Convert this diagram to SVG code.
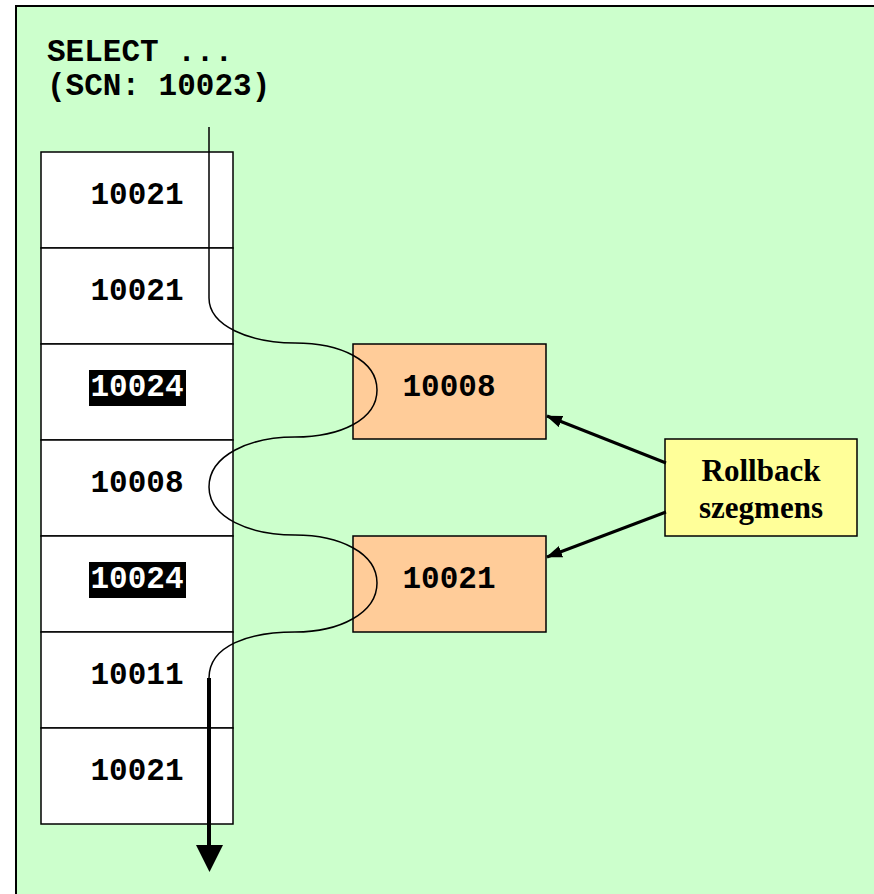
<svg xmlns="http://www.w3.org/2000/svg" width="874" height="894" viewBox="0 0 874 894">
<style>
.mono{font-family:"Liberation Mono","Courier New",monospace;font-weight:bold;font-size:31px;}
.cell{fill:#FFFFFF;stroke:#000;stroke-width:1.5;}
.seg{fill:#FFCC99;stroke:#000;stroke-width:1.5;}
.note{fill:#FFFF99;stroke:#000;stroke-width:1.5;}
.lbl{font-family:"Liberation Serif","Times New Roman",serif;font-weight:bold;font-size:31px;}
</style>
<defs>
<marker id="ah" markerWidth="16" markerHeight="12" refX="15" refY="6" orient="auto" markerUnits="userSpaceOnUse">
<path d="M0,0 L16,6 L0,12 Z" fill="#000"/>
</marker>
</defs>
<rect x="0" y="0" width="874" height="894" fill="#FFFFFF"/>
<rect x="16" y="6" width="880" height="910" fill="#CCFFCC" stroke="#000" stroke-width="2"/>
<g id="query">
<text class="mono" x="47" y="61">SELECT ...</text>
<text class="mono" x="47" y="95">(SCN: 10023)</text>
</g>
<g id="blocks">
<g id="row1"><rect class="cell" x="41" y="152" width="192" height="96"/><text class="mono" x="137" y="204" text-anchor="middle">10021</text></g>
<g id="row2"><rect class="cell" x="41" y="248" width="192" height="96"/><text class="mono" x="137" y="300" text-anchor="middle">10021</text></g>
<g id="row3"><rect class="cell" x="41" y="344" width="192" height="96"/><rect x="89" y="370" width="97" height="36" fill="#000"/><text class="mono" x="137" y="396" text-anchor="middle" fill="#FFFFFF">10024</text></g>
<g id="row4"><rect class="cell" x="41" y="440" width="192" height="96"/><text class="mono" x="137" y="492" text-anchor="middle">10008</text></g>
<g id="row5"><rect class="cell" x="41" y="536" width="192" height="96"/><rect x="89" y="562" width="97" height="36" fill="#000"/><text class="mono" x="137" y="588" text-anchor="middle" fill="#FFFFFF">10024</text></g>
<g id="row6"><rect class="cell" x="41" y="632" width="192" height="96"/><text class="mono" x="137" y="684" text-anchor="middle">10011</text></g>
<g id="row7"><rect class="cell" x="41" y="728" width="192" height="96"/><text class="mono" x="137" y="780" text-anchor="middle">10021</text></g>
</g>
<g id="undo1"><rect class="seg" x="353" y="344" width="193" height="95"/><text class="mono" x="449" y="396" text-anchor="middle">10008</text></g>
<g id="undo2"><rect class="seg" x="353" y="536" width="193" height="96"/><text class="mono" x="449" y="588" text-anchor="middle">10021</text></g>
<g id="rollback"><rect class="note" x="665" y="439" width="192" height="97"/>
<text class="lbl" x="761" y="481" text-anchor="middle">Rollback</text>
<text class="lbl" x="761" y="518" text-anchor="middle">szegmens</text></g>
<g id="connectors" fill="none" stroke="#000">
<path stroke-width="1.5" d="M209,127 V298 C209,326 250,343 295,343 C340,343 377,360 377,390 C377,420 340,437 295,437 C250,437 209,455 209,487 C209,518 250,535 295,535 C340,535 377,553 377,583 C377,613 340,632 295,632 C250,632 209,645 209,678"/>
<line x1="209" y1="678" x2="209" y2="848" stroke-width="4"/>
<path d="M196,845 L223,845 L209.5,872 Z" fill="#000" stroke="none"/>
<line x1="666" y1="463" x2="547" y2="416" stroke-width="3" marker-end="url(#ah)"/>
<line x1="666" y1="512" x2="547" y2="557" stroke-width="3" marker-end="url(#ah)"/>
</g>
</svg>
